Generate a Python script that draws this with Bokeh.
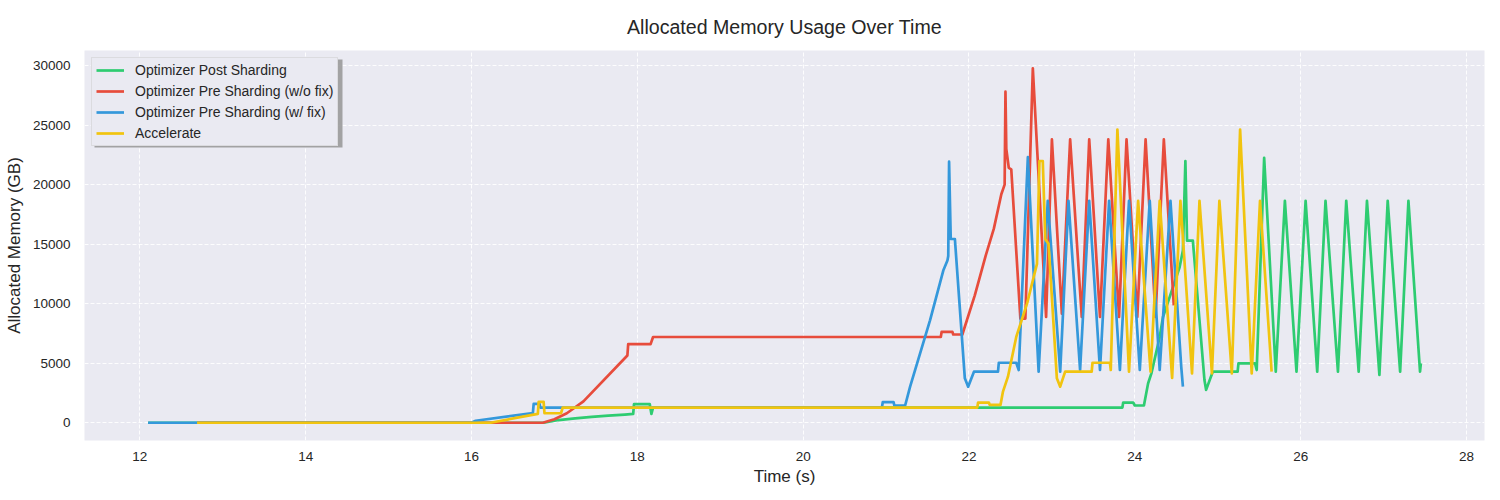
from bokeh.plotting import figure
from bokeh.models import Legend, LegendItem, SingleIntervalTicker, BasicTickFormatter, BoxAnnotation, Range1d
from bokeh.embed import file_html
from bokeh.resources import INLINE

# ---------------- data ----------------
series_names = ["Optimizer Post Sharding", "Optimizer Pre Sharding (w/o fix)",
                "Optimizer Pre Sharding (w/ fix)", "Accelerate"]

green_t = [12.10, 16.87, 17.05, 17.25, 17.45, 17.65, 17.85, 17.95, 17.96, 18.15, 18.17, 18.19,
           23.85, 23.86, 23.98, 24.00, 24.11, 24.16, 24.20, 24.30, 24.34, 24.42, 24.54, 24.58,
           24.61, 24.63, 24.70, 24.84, 24.86, 24.94, 25.24, 25.25, 25.45, 25.47, 25.56, 25.70,
           25.81, 25.95, 26.06, 26.20, 26.30, 26.45, 26.55, 26.70, 26.80, 26.95, 27.05, 27.20,
           27.30, 27.44, 27.45]
green_v = [0, 0, 230, 370, 500, 600, 690, 740, 1560, 1560, 740, 1280,
           1280, 1700, 1700, 1450, 1450, 3300, 4150, 7200, 8880, 10550, 13060, 14460,
           21980, 15290, 15290, 3590, 2760, 4290, 4290, 4990, 4990, 4430, 22250, 4290,
           18630, 4290, 18630, 4290, 18630, 4290, 18630, 4290, 18630, 4010, 18630, 4290,
           18630, 4290, 4990]

red_t = [12.69, 16.86, 17.00, 17.15, 17.35, 17.88, 17.89, 18.16, 18.19, 21.66, 21.67, 21.80,
         21.81, 21.92, 22.07, 22.20, 22.30, 22.39, 22.43, 22.44, 22.45, 22.48, 22.51, 22.62,
         22.68, 22.77, 22.93, 23.00, 23.12, 23.22, 23.36, 23.45, 23.58, 23.68, 23.81, 23.90,
         24.03, 24.13, 24.25, 24.35, 24.47]
red_v = [0, 0, 300, 800, 1800, 5650, 6600, 6600, 7200, 7200, 7630, 7630,
         7410, 7410, 10700, 14000, 16300, 19190, 20000, 27800, 23000, 21400, 21280, 8750,
         8750, 29770, 8880, 23790, 9170, 23790, 8880, 23790, 8880, 23790, 8880, 23790,
         8880, 23790, 8880, 23790, 9860]

blue_t = [12.10, 16.00, 16.05, 16.74, 16.75, 16.82, 16.83, 20.95, 20.96, 21.09, 21.10, 21.23,
          21.29, 21.53, 21.69, 21.74, 21.75, 21.76, 21.78, 21.83, 21.95, 21.99, 22.06, 22.35,
          22.36, 22.57, 22.60, 22.71, 22.84, 22.95, 23.10, 23.20, 23.34, 23.45, 23.58, 23.69,
          23.82, 23.93, 24.06, 24.18, 24.30, 24.43, 24.56, 24.58]
blue_v = [0, 0, 170, 810, 1590, 1590, 1280, 1280, 1730, 1730, 1450, 1450,
          3030, 8600, 12780, 13620, 14000, 21920, 15430, 15430, 3730, 3030, 4290, 4290,
          5040, 5040, 4430, 22300, 4290, 18630, 4290, 18630, 4430, 18630, 4430, 18630,
          4430, 18630, 4430, 18630, 4430, 18630, 4700, 3030]

yellow_t = [12.69, 16.23, 16.80, 16.81, 16.87, 16.88, 17.08, 17.10, 22.10, 22.11, 22.24, 22.25,
            22.38, 22.41, 22.47, 22.57, 22.70, 22.82, 22.85, 22.89, 22.92, 22.96, 23.06, 23.10,
            23.16, 23.48, 23.49, 23.70, 23.71, 23.79, 23.93, 24.04, 24.19, 24.30, 24.45, 24.55,
            24.69, 24.78, 24.93, 25.02, 25.17, 25.27, 25.41, 25.51, 25.65]
yellow_v = [0, 0, 750, 1750, 1750, 800, 800, 1280, 1280, 1700, 1700, 1500,
            1500, 2620, 3870, 7210, 10000, 13340, 21980, 21980, 15430, 15010, 3730, 3030,
            4290, 4290, 5040, 5040, 4430, 24620, 4290, 18630, 4290, 18630, 3760, 18630,
            4150, 18630, 4150, 18630, 4150, 24620, 4150, 18630, 4290]

x_ticks_interval = 2
y_ticks_interval = 5000

# ---------------- styles ----------------
colors = ["#2ecc71", "#e74c3c", "#3498db", "#f1c40f"]
FONT = "Liberation Sans"
TXT = "#262626"

all_t = green_t + red_t + blue_t + yellow_t
all_v = green_v + red_v + blue_v + yellow_v
xpad = 0.05 * (max(all_t) - min(all_t))
ypad = 0.05 * (max(all_v) - min(all_v))

p = figure(width=1500, height=500, output_backend="svg", toolbar_location=None,
           x_range=Range1d(min(all_t) - xpad, max(all_t) + xpad),
           y_range=Range1d(min(all_v) - ypad, max(all_v) + ypad),
           min_border_left=84, min_border_right=16, min_border_top=49, min_border_bottom=60,
           title="Allocated Memory Usage Over Time")

p.background_fill_color = "#EAEAF2"
p.border_fill_color = "white"
p.outline_line_color = None

p.title.align = "center"
p.title.text_font = FONT
p.title.text_font_size = "19.6px"
p.title.text_font_style = "normal"
p.title.text_color = TXT
p.title.standoff = 26

for g in (p.xgrid, p.ygrid):
    g.grid_line_color = "white"
    g.grid_line_dash = "4 2"
    g.grid_line_width = 1
    g.grid_line_alpha = 0.9

p.xaxis.ticker = SingleIntervalTicker(interval=x_ticks_interval)
p.yaxis.ticker = SingleIntervalTicker(interval=y_ticks_interval)
p.yaxis.formatter = BasicTickFormatter(use_scientific=False)

for ax in (p.xaxis, p.yaxis):
    ax.axis_line_color = None
    ax.major_tick_line_color = None
    ax.minor_tick_line_color = None
    ax.major_tick_out = 0
    ax.major_tick_in = 0
    ax.major_label_text_font = FONT
    ax.major_label_text_font_size = "13.5px"
    ax.major_label_text_color = TXT
    ax.axis_label_text_font = FONT
    ax.axis_label_text_font_size = "17px"
    ax.axis_label_text_font_style = "normal"
    ax.axis_label_text_color = TXT

p.xaxis.major_label_standoff = 7
p.yaxis.major_label_standoff = 10
p.xaxis.axis_label = "Time (s)"
p.yaxis.axis_label = "Allocated Memory (GB)"
p.xaxis.axis_label_standoff = 3
p.yaxis.axis_label_standoff = 6

renderers = []
for t, v, c in zip([green_t, red_t, blue_t, yellow_t], [green_v, red_v, blue_v, yellow_v], colors):
    r = p.line(t, v, line_color=c, line_width=2.7, line_join="round")
    renderers.append(r)

# legend shadow
shadow = BoxAnnotation(left=10, right=258, top=381, bottom=293,
                       left_units="screen", right_units="screen",
                       top_units="screen", bottom_units="screen",
                       fill_color="#9a9a9a", fill_alpha=0.9, line_color=None)
p.add_layout(shadow)

legend = Legend(items=[LegendItem(label=n, renderers=[r]) for n, r in zip(series_names, renderers)],
                location="top_left", margin=7, padding=4, spacing=5,
                glyph_width=28, glyph_height=16, label_height=16, label_standoff=11,
                label_text_font=FONT, label_text_font_size="14px", label_text_color=TXT,
                background_fill_color="#EAEAF2", background_fill_alpha=1.0,
                border_line_color="#cccccc", border_line_width=1)
p.add_layout(legend)

open("out.html", "w").write(file_html(p, INLINE))
